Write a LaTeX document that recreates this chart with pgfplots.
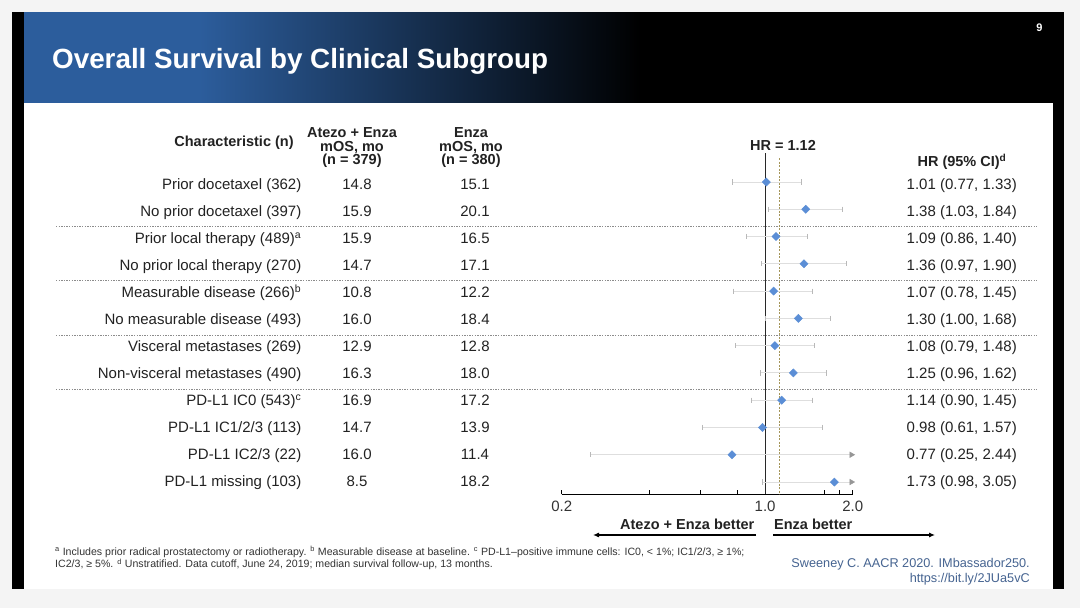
\documentclass[border=0pt]{standalone}
\usepackage{fontspec}
\setmainfont{Liberation Sans}
\usepackage{pgfplots}
\pgfplotsset{compat=1.18}
\usetikzlibrary{arrows.meta}
\definecolor{slideblue}{RGB}{44,93,156}
\definecolor{bgout}{RGB}{244,244,244}
\definecolor{txt}{RGB}{34,34,34}
\definecolor{diam}{RGB}{91,142,214}
\definecolor{cigray}{RGB}{222,222,222}
\definecolor{capgray}{RGB}{185,185,185}
\definecolor{trigray}{RGB}{150,150,150}
\definecolor{hrline}{RGB}{165,150,90}
\definecolor{sepgray}{RGB}{140,140,140}
\definecolor{citeblue}{RGB}{70,100,145}
\newcommand{\rowtext}[5]{%
  \node[anchor=base east] at (301.5,{190+26.97*(#1-1)}) {#2};
  \node[anchor=base] at (357,{190+26.97*(#1-1)}) {#3};
  \node[anchor=base] at (475,{190+26.97*(#1-1)}) {#4};
  \node[anchor=base west] at (906.5,{190+26.97*(#1-1)}) {#5};}
\begin{document}
\begin{tikzpicture}[x=1pt,y=1pt]
\useasboundingbox (0,0) rectangle (1080,608);
\fill[bgout] (0,0) rectangle (1080,608);
\begin{scope}[yshift=608pt,yscale=-1,every node/.style={inner sep=0pt,text=txt,font=\fontsize{15}{18}\selectfont}]
  \fill[black] (12,12) rectangle (1064,589);
  \fill[white] (24,103) rectangle (1053,589);
  \fill[slideblue] (24,12) rectangle (201,103);
  \begin{scope}
    \clip (200,12) rectangle (640,103);
    \shade[left color=slideblue,right color=black] (199,10) rectangle (641,105);
  \end{scope}
  \fill[bgout] (0,0) rectangle (1080,12);
  \node[anchor=base west,text=white,font=\bfseries\fontsize{27.8}{30}\selectfont] at (52,68.5) {Overall Survival by Clinical Subgroup};
  \node[anchor=base,text=white,font=\bfseries\fontsize{11}{12}\selectfont] at (1039.5,31.5) {9};
  % separators
  \foreach \yy in {226.7,280.7,335,389}
    \draw[sepgray,line width=0.7pt,dash pattern=on 1.3pt off 1.3pt] (56,\yy) -- (1037,\yy);
  % headers
  \begin{scope}[every node/.append style={font=\bfseries\fontsize{14.5}{18}\selectfont}]
  \node[anchor=base] at (234,147) {Characteristic (n)};
  \node[anchor=base] at (352,138) {Atezo + Enza};
  \node[anchor=base] at (352,151.5) {mOS, mo};
  \node[anchor=base] at (352,165) {(n = 379)};
  \node[anchor=base] at (471,138) {Enza};
  \node[anchor=base] at (471,151.5) {mOS, mo};
  \node[anchor=base] at (471,165) {(n = 380)};
  \node[anchor=base] at (962,166.5) {HR (95\% CI)\textsuperscript{d}};
  \node[anchor=base] at (783,150.5) {HR = 1.12};
  \node[anchor=base east] at (754.5,529.5) {Atezo + Enza better};
  \node[anchor=base west] at (774,529.5) {Enza better};
  \end{scope}
  \draw[black,line width=1.1pt,-{Latex[length=6pt,width=5pt]}] (756,535) -- (593,535);
  \draw[black,line width=1.1pt,-{Latex[length=6pt,width=5pt]}] (773,535) -- (935,535);
  % rows
  \rowtext{1}{Prior docetaxel (362)}{14.8}{15.1}{1.01 (0.77, 1.33)}
  \rowtext{2}{No prior docetaxel (397)}{15.9}{20.1}{1.38 (1.03, 1.84)}
  \rowtext{3}{Prior local therapy (489)\textsuperscript{a}}{15.9}{16.5}{1.09 (0.86, 1.40)}
  \rowtext{4}{No prior local therapy (270)}{14.7}{17.1}{1.36 (0.97, 1.90)}
  \rowtext{5}{Measurable disease (266)\textsuperscript{b}}{10.8}{12.2}{1.07 (0.78, 1.45)}
  \rowtext{6}{No measurable disease (493)}{16.0}{18.4}{1.30 (1.00, 1.68)}
  \rowtext{7}{Visceral metastases (269)}{12.9}{12.8}{1.08 (0.79, 1.48)}
  \rowtext{8}{Non-visceral metastases (490)}{16.3}{18.0}{1.25 (0.96, 1.62)}
  \rowtext{9}{PD-L1 IC0 (543)\textsuperscript{c}}{16.9}{17.2}{1.14 (0.90, 1.45)}
  \rowtext{10}{PD-L1 IC1/2/3 (113)}{14.7}{13.9}{0.98 (0.61, 1.57)}
  \rowtext{11}{PD-L1 IC2/3 (22)}{16.0}{11.4}{0.77 (0.25, 2.44)}
  \rowtext{12}{PD-L1 missing (103)}{8.5}{18.2}{1.73 (0.98, 3.05)}
  % footnotes
  \node[anchor=base west,text={rgb,255:red,51;green,51;blue,51},font=\fontsize{10.6}{11}\selectfont] at (55,555.5) {\textsuperscript{a} Includes prior radical prostatectomy or radiotherapy. \textsuperscript{b} Measurable disease at baseline. \textsuperscript{c} PD-L1–positive immune cells: IC0, < 1\%; IC1/2/3, ≥ 1\%;};
  \node[anchor=base west,text={rgb,255:red,51;green,51;blue,51},font=\fontsize{10.6}{11}\selectfont] at (55,568) {IC2/3, ≥ 5\%. \textsuperscript{d} Unstratified. Data cutoff, June 24, 2019; median survival follow-up, 13 months.};
  \node[anchor=base east,text=citeblue,font=\fontsize{12.7}{13}\selectfont] at (1030,567.5) {Sweeney C. AACR 2020. IMbassador250.};
  \node[anchor=base east,text=citeblue,font=\fontsize{12.7}{13}\selectfont] at (1030,582.5) {https://bit.ly/2JUa5vC};
\end{scope}
\begin{axis}[
  at={(561.7pt,113.7pt)}, anchor=south west,
  scale only axis, width=291pt, height=349.3pt,
  xmode=log, xmin=0.2, xmax=2,
  ymin=0.55, ymax=13.357,
  axis x line=bottom, axis y line=none,
  axis line style={-, black, line width=1pt},
  xtick={0.2,1,2}, xticklabels={0.2,1.0,2.0},
  minor xtick={0.4,0.6,0.8,1.6,1.8},
  tick align=inside, major tick length=4pt, minor tick length=4pt,
  tick style={black, line width=0.8pt},
  xticklabel style={font=\fontsize{15}{15}\selectfont, text={rgb,255:red,51;green,51;blue,51}, yshift=-3pt},
  clip=false,
]
\addplot[line width=0.8pt, color={rgb,255:red,40;green,40;blue,40}] coordinates {(1,13.05) (1,0.55)};
\addplot[line width=1.3pt, color=hrline, dash pattern=on 2pt off 1.5pt] coordinates {(1.12,12.87) (1.12,0.55)};
% confidence intervals
\addplot[cigray, line width=1pt] coordinates {(0.77,12) (1.33,12)};
\addplot[cigray, line width=1pt] coordinates {(1.03,11) (1.84,11)};
\addplot[cigray, line width=1pt] coordinates {(0.86,10) (1.40,10)};
\addplot[cigray, line width=1pt] coordinates {(0.97,9) (1.90,9)};
\addplot[cigray, line width=1pt] coordinates {(0.78,8) (1.45,8)};
\addplot[cigray, line width=1pt] coordinates {(1.00,7) (1.68,7)};
\addplot[cigray, line width=1pt] coordinates {(0.79,6) (1.48,6)};
\addplot[cigray, line width=1pt] coordinates {(0.96,5) (1.62,5)};
\addplot[cigray, line width=1pt] coordinates {(0.90,4) (1.45,4)};
\addplot[cigray, line width=1pt] coordinates {(0.61,3) (1.57,3)};
\addplot[cigray, line width=1pt] coordinates {(0.25,2) (1.95,2)};
\addplot[cigray, line width=1pt] coordinates {(0.98,1) (1.95,1)};
% caps
\addplot[only marks, mark=|, mark size=2.6pt, mark options={capgray, line width=0.8pt}] coordinates {
 (0.77,12) (1.33,12) (1.03,11) (1.84,11) (0.86,10) (1.40,10) (0.97,9) (1.90,9)
 (0.78,8) (1.45,8) (1.00,7) (1.68,7) (0.79,6) (1.48,6) (0.96,5) (1.62,5)
 (0.90,4) (1.45,4) (0.61,3) (1.57,3) (0.25,2) (0.98,1)};
% truncation arrows
\addplot[only marks, mark=triangle*, mark size=3.2pt, mark options={trigray, rotate=-90}] coordinates {(1.98,2) (1.98,1)};
% hazard ratios
\addplot[only marks, mark=square*, mark size=2.9pt, mark options={diam, rotate=45}] coordinates {
 (1.01,12) (1.38,11) (1.09,10) (1.36,9) (1.07,8) (1.30,7)
 (1.08,6) (1.25,5) (1.14,4) (0.98,3) (0.77,2) (1.73,1)};
\end{axis}
\end{tikzpicture}
\end{document}
